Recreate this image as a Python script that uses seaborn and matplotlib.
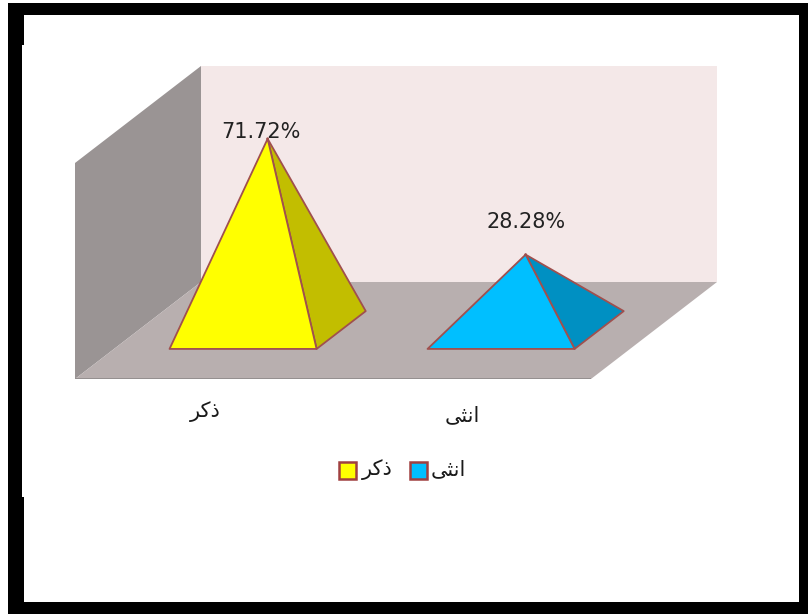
import matplotlib
matplotlib.use("Agg")
import matplotlib.pyplot as plt
from matplotlib.patches import Polygon, Rectangle
import pandas as pd
import seaborn as sns

# Labels are stored in shaped presentation forms, left-to-right visual order,
# because matplotlib does no Arabic shaping of its own.
categories = ["\uFEAE\uFB90\uFEAB", "\uFEF0\uFE9C\uFEE7\uFE8D"]
shares = [71.72, 28.28]
share_labels = ["71.72%", "28.28%"]

front_colors = ["#FFFF00", "#00BFFF"]
side_colors = ["#C2BE00", "#0090C2"]
edge_color = "#A0504E"

sns.set_theme(style="white")
plt.rcParams["font.family"] = ["DejaVu Sans"]

W, H = 808, 614
fig = plt.figure(figsize=(W / 100, H / 100), dpi=100, facecolor="white")

# Front plane of the chart box: two category slots wide, 0-81 in value.
BOX_L, BOX_R, BOX_B, BOX_T = 75, 591, 379, 163
ax = fig.add_axes([BOX_L / W, 1 - BOX_B / H, (BOX_R - BOX_L) / W, (BOX_B - BOX_T) / H])
ax.set_xlim(0, len(categories))
ax.set_ylim(0, 81)
ax.axis("off")

DEPTH_X = 126 / 258   # sideways shift of the back plane, in category slots
DEPTH_Y = 97 / (216 / 81)  # upward shift of the back plane, in value units


def project(cat_x, value, depth):
    """Oblique projection of (category, value, depth) onto the axes."""
    return cat_x + depth * DEPTH_X, value + depth * DEPTH_Y


def face(points, color, edge="none", lw=0.0, z=1):
    ax.add_patch(Polygon([project(*p) for p in points], closed=True, facecolor=color,
                         edgecolor=edge, linewidth=lw, clip_on=False, zorder=z,
                         joinstyle="round"))


# Box walls and floor
face([(0, 0, 1), (2, 0, 1), (2, 81, 1), (0, 81, 1)], "#F4E8E8")
face([(0, 0, 0), (0, 0, 1), (0, 81, 1), (0, 81, 0)], "#9A9494")
face([(0, 0, 0), (2, 0, 0), (2, 0, 1), (0, 0, 1)], "#B8AFAF")
ax.plot(*zip(project(0, 0, 0), project(2, 0, 0)), color="#8E8A8A", lw=1.2, zorder=1)

# Pyramids
HALF_W = 0.285
D_FRONT, D_BACK = 0.31, 0.70
D_MID = (D_FRONT + D_BACK) / 2
centers = [i + 0.5 for i in range(len(categories))]

for cx, val, fc, sc in zip(centers, shares, front_colors, side_colors):
    apex = (cx, val, D_MID)
    fl, fr = (cx - HALF_W, 0, D_FRONT), (cx + HALF_W, 0, D_FRONT)
    br = (cx + HALF_W, 0, D_BACK)
    face([fr, br, apex], sc, edge_color, 1.3, 3)
    face([fl, fr, apex], fc, edge_color, 1.3, 4)

# Apex anchors for the value labels
apexes = pd.DataFrame(
    [project(cx, val, D_MID) for cx, val in zip(centers, shares)], columns=["x", "y"]
)
apexes["category"] = categories
sns.scatterplot(data=apexes, x="x", y="y", hue="category", palette=[edge_color, edge_color],
                s=4, linewidth=0, legend=False, ax=ax, zorder=5, clip_on=False)
ax.set_xlabel("")
ax.set_ylabel("")

label_offsets = [(-7, -3), (0, 23)]
for (_, row), text, off in zip(apexes.iterrows(), share_labels, label_offsets):
    ax.annotate(text, (row["x"], row["y"]), xytext=(off[0] * 0.72, off[1] * 0.72),
                textcoords="offset points", ha="center", va="bottom",
                fontsize=15, color="#222222", zorder=6, annotation_clip=False)

# Category names below the box
for text, x_pos, y_pos in zip(categories, [205, 462], [412, 415]):
    fig.text(x_pos / W, 1 - y_pos / H, text, ha="center", va="center",
             fontsize=15, color="#1A1A1A")

# Legend: swatch left edges and label centres along one row
LEGEND_Y, SWATCH = 470.5, 17
for text, color, swatch_x, text_x in zip(categories, front_colors, [339, 410], [377, 448]):
    fig.add_artist(Rectangle((swatch_x / W, 1 - (LEGEND_Y + SWATCH / 2) / H), SWATCH / W, SWATCH / H,
                             transform=fig.transFigure, facecolor=color,
                             edgecolor="#A04040", linewidth=1.8))
    fig.text(text_x / W, 1 - (LEGEND_Y - 1) / H, text, ha="center", va="center",
             fontsize=15, color="#1A1A1A")

# Black surround, slightly stepped on the left
black = "black"
for x0, y0, x1, y1 in [(8, 3, 808, 15), (8, 602, 808, 614), (799, 3, 808, 614),
                       (8, 3, 22, 614), (22, 3, 24, 45), (22, 497, 24, 614)]:
    fig.add_artist(Rectangle((x0 / W, 1 - y1 / H), (x1 - x0) / W, (y1 - y0) / H,
                             transform=fig.transFigure, facecolor=black, edgecolor="none"))

fig.savefig("out.png", dpi=100, facecolor="white")
